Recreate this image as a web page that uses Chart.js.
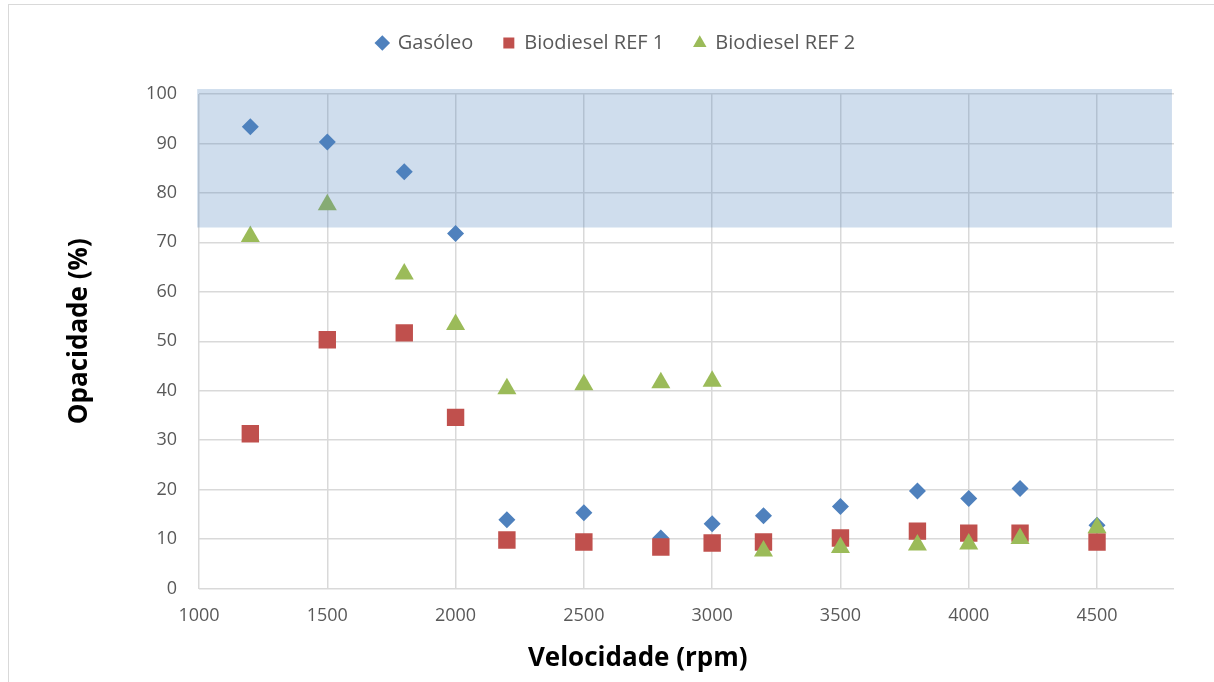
<!DOCTYPE html>
<html>
<head>
<meta charset="utf-8">
<script src="https://cdn.jsdelivr.net/npm/chart.js@4/dist/chart.umd.min.js"></script>
<style>
  html, body { margin: 0; padding: 0; background: #fff; overflow: hidden; }
  #frame {
    position: absolute; left: 8px; top: 4px; width: 1300px; height: 760px;
    border: 1px solid #d9d9d9; box-sizing: border-box;
  }
  #wrap { position: absolute; left: 0; top: 0; width: 1214px; height: 682px; }
</style>
</head>
<body>
<div id="frame"></div>
<div id="wrap"><canvas id="chart"></canvas></div>
<script>
// engine speed (rpm) of each measurement
const speeds = [1200, 1500, 1800, 2000, 2200, 2500, 2800, 3000, 3200, 3500, 3800, 4000, 4200, 4500];

// smoke opacity (%) for each fuel
const gasoleo = [93.4, 90.3, 84.3, 71.8, 13.9, 15.3, 10.2, 13.1, 14.7, 16.6, 19.7, 18.2, 20.2, 12.8];
const biodieselRef1 = [31.3, 50.3, 51.7, 34.6, 9.8, 9.4, 8.4, 9.2, 9.4, 10.2, 11.6, 11.2, 11.2, 9.4];
const biodieselRef2 = [71.2, 77.6, 63.6, 53.4, 40.4, 41.2, 41.6, 41.9, 7.6, 8.3, 8.8, 9.0, 10.1, 12.3];

const seriesNames = ['Gasóleo', 'Biodiesel REF 1', 'Biodiesel REF 2'];

// axis ticks
const xTicks = [1000, 1500, 2000, 2500, 3000, 3500, 4000, 4500];
const yTicks = [0, 10, 20, 30, 40, 50, 60, 70, 80, 90, 100];

// highlighted opacity zone (x range in rpm, y range in %)
const zoneX = [993, 4792];
const zoneY = [73, 101];

const xTitle = 'Velocidade (rpm)';
const yTitle = 'Opacidade (%)';

const FONT = '"Open Sans", "Noto Sans", sans-serif';

const toPoints = (ys) => speeds.map((x, i) => ({ x, y: ys[i] }));

// extra room under the legend
const legendGap = {
  id: 'legendGap',
  beforeInit(chart) {
    const fit = chart.legend.fit;
    chart.legend.fit = function () {
      fit.bind(chart.legend)();
      this.height += 31;
    };
  }
};

// translucent band painted over the markers
const zonePlugin = {
  id: 'zone',
  afterDatasetsDraw(chart) {
    const { ctx, scales: { x, y } } = chart;
    const left = x.getPixelForValue(zoneX[0]);
    const right = x.getPixelForValue(zoneX[1]);
    const top = y.getPixelForValue(zoneY[1]);
    const bottom = y.getPixelForValue(zoneY[0]);
    ctx.save();
    ctx.fillStyle = 'rgba(79, 129, 189, 0.27)';
    ctx.fillRect(left, top, right - left, bottom - top);
    ctx.restore();
  }
};

// bold axis titles
const titlesPlugin = {
  id: 'axisTitles',
  afterDraw(chart) {
    const { ctx, chartArea } = chart;
    ctx.save();
    ctx.fillStyle = '#000';
    ctx.font = 'bold 26px ' + FONT;
    ctx.textAlign = 'center';
    ctx.textBaseline = 'middle';
    ctx.fillText(xTitle, chartArea.left + chartArea.width * 0.45, 659);
    ctx.translate(80, (chartArea.top + chartArea.bottom) / 2 - 10);
    ctx.rotate(-Math.PI / 2);
    ctx.fillText(yTitle, 0, 0);
    ctx.restore();
  }
};

new Chart(document.getElementById('chart'), {
  type: 'scatter',
  data: {
    datasets: [
      {
        label: seriesNames[0],
        data: toPoints(gasoleo),
        order: 3,
        pointStyle: 'rectRot',
        pointRadius: 8.5,
        backgroundColor: '#4F81BD',
        borderColor: '#4F81BD',
        borderWidth: 0
      },
      {
        label: seriesNames[1],
        data: toPoints(biodieselRef1),
        order: 2,
        pointStyle: 'rect',
        pointRadius: 12.3,
        backgroundColor: '#C0504D',
        borderColor: '#C0504D',
        borderWidth: 0
      },
      {
        label: seriesNames[2],
        data: toPoints(biodieselRef2),
        order: 1,
        pointStyle: 'triangle',
        pointRadius: 11,
        backgroundColor: '#9BBB59',
        borderColor: '#9BBB59',
        borderWidth: 0
      }
    ]
  },
  options: {
    responsive: true,
    maintainAspectRatio: false,
    animation: false,
    layout: { padding: { left: 58, right: 40, top: 3, bottom: 0 } },
    plugins: {
      tooltip: { enabled: false },
      legend: {
        position: 'top',
        labels: {
          usePointStyle: true,
          boxWidth: 11,
          boxHeight: 11,
          padding: 30,
          color: '#595959',
          font: { family: FONT, size: 20 },
          sort: (a, b) => a.datasetIndex - b.datasetIndex
        }
      }
    },
    scales: {
      x: {
        type: 'linear',
        min: 1000,
        max: 4800,
        afterFit: (s) => { s.height = 93.5; },
        afterBuildTicks: (s) => { s.ticks = xTicks.map((value) => ({ value })); },
        ticks: {
          padding: 17,
          color: '#595959',
          font: { family: FONT, size: 18 },
          callback: (v) => String(v)
        },
        grid: { color: '#d9d9d9', lineWidth: 1.5, drawTicks: false },
        border: { display: false }
      },
      y: {
        type: 'linear',
        min: 0,
        max: 100,
        afterFit: (s) => { s.width = 141; },
        afterBuildTicks: (s) => { s.ticks = yTicks.map((value) => ({ value })); },
        ticks: {
          padding: 22,
          color: '#595959',
          font: { family: FONT, size: 18 }
        },
        grid: { color: '#d9d9d9', lineWidth: 1.5, drawTicks: false },
        border: { display: false }
      }
    }
  },
  plugins: [legendGap, zonePlugin, titlesPlugin]
});
</script>
</body>
</html>
